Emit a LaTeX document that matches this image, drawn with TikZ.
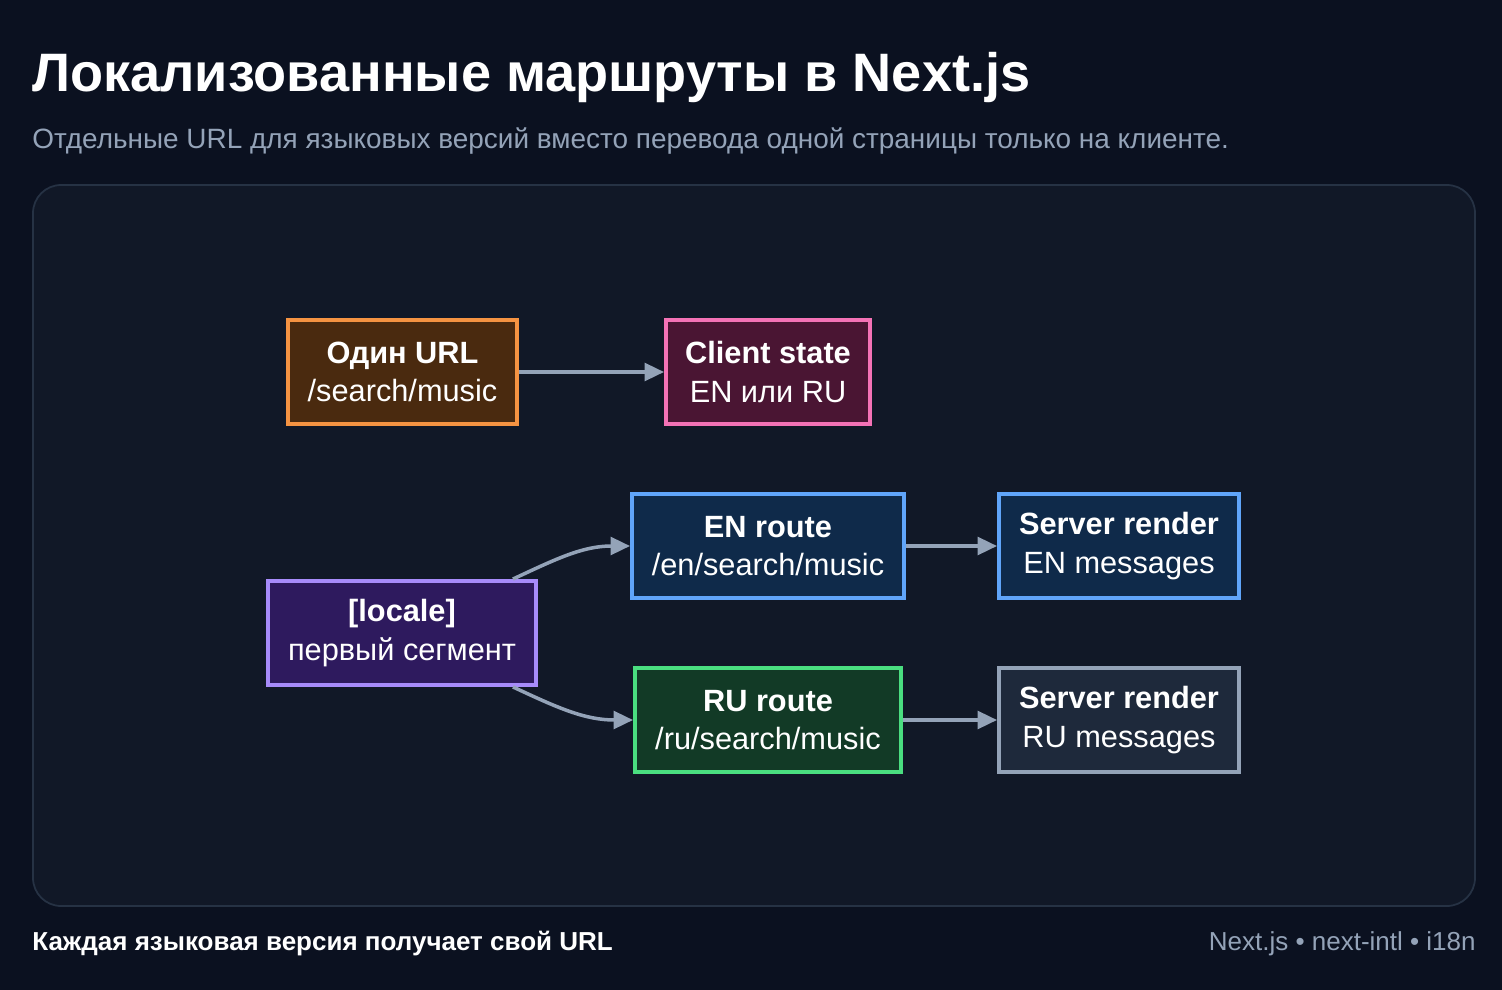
\documentclass[tikz,border=0pt]{standalone}
\usepackage{fontspec}
\setmainfont{Liberation Sans}
\usetikzlibrary{arrows.meta}
\definecolor{bgc}{HTML}{0B1120}
\definecolor{panelc}{HTML}{111827}
\definecolor{panelb}{HTML}{263244}
\definecolor{subc}{HTML}{94A3B8}
\definecolor{arrc}{HTML}{94A3B8}
\definecolor{orgF}{HTML}{4A2A0F}\definecolor{orgD}{HTML}{F59342}
\definecolor{pnkF}{HTML}{4A1533}\definecolor{pnkD}{HTML}{F472B6}
\definecolor{bluF}{HTML}{0F2A4A}\definecolor{bluD}{HTML}{60A5FA}
\definecolor{purF}{HTML}{2E1A5E}\definecolor{purD}{HTML}{A78BFA}
\definecolor{grnF}{HTML}{123A26}\definecolor{grnD}{HTML}{4ADE80}
\definecolor{gryF}{HTML}{1E293B}\definecolor{gryD}{HTML}{94A3B8}
\newcommand\pxu{0.02cm}
\tikzset{
  box/.style={draw, line width=2.2pt, text=white, align=center,
    inner sep=0pt, minimum height=104*\pxu, font=\fontsize{17.5}{22}\selectfont},
  flow/.style={draw=arrc, line width=2pt, -{Triangle[width=10pt,length=11pt]}}
}
\begin{document}
\begin{tikzpicture}[x=\pxu, y=-\pxu]
    % background and panel
    \fill[bgc] (0,0) rectangle (1502,990);
    \useasboundingbox (0,0) rectangle (1502,990);
    \draw[panelb, line width=1pt, fill=panelc, rounded corners=16pt] (33,185) rectangle (1475,906);

    % header and footer
    \node[anchor=base west, inner sep=0pt, text=white, font=\fontsize{30.8}{36}\selectfont\bfseries] (title) at (32,92) {Локализованные маршруты в Next.js};
    \node[anchor=base west, inner sep=0pt, text=subc, font=\fontsize{15.9}{18}\selectfont] (sub) at (32,149) {Отдельные URL для языковых версий вместо перевода одной страницы только на клиенте.};
    \node[anchor=base west, inner sep=0pt, text=white, font=\fontsize{14.8}{16}\selectfont\bfseries] (foot) at (32,950) {Каждая языковая версия получает свой URL};
    \node[anchor=base east, inner sep=0pt, text=subc, font=\fontsize{14.8}{16}\selectfont] (tags) at (1476,950) {Next.js • next-intl • i18n};

    % boxes
    \node[box, fill=orgF, draw=orgD, minimum width=229*\pxu] (one) at (402.5,372) {\textbf{Один URL}\\/search/music};
    \node[box, fill=pnkF, draw=pnkD, minimum width=204*\pxu] (client) at (768,372) {\textbf{Client state}\\EN или RU};
    \node[box, fill=bluF, draw=bluD, minimum width=272*\pxu] (en) at (768,546) {\textbf{EN route}\\/en/search/music};
    \node[box, fill=bluF, draw=bluD, minimum width=240*\pxu] (srven) at (1119,546) {\textbf{Server render}\\EN messages};
    \node[box, fill=purF, draw=purD, minimum width=268*\pxu] (loc) at (402,633) {\textbf{[locale]}\\первый сегмент};
    \node[box, fill=grnF, draw=grnD, minimum width=266*\pxu] (ru) at (768,720) {\textbf{RU route}\\/ru/search/music};
    \node[box, fill=gryF, draw=gryD, minimum width=240*\pxu] (srvru) at (1119,720) {\textbf{Server render}\\RU messages};

    % connectors
    \draw[flow] (one) -- (client);
    \draw[flow] ([xshift=-25*\pxu]loc.north east) to[out=25, in=180] (en.west);
    \draw[flow] ([xshift=-25*\pxu]loc.south east) to[out=-25, in=180] (ru.west);
    \draw[flow] (en) -- (srven);
    \draw[flow] (ru) -- (srvru);
\end{tikzpicture}
\end{document}
